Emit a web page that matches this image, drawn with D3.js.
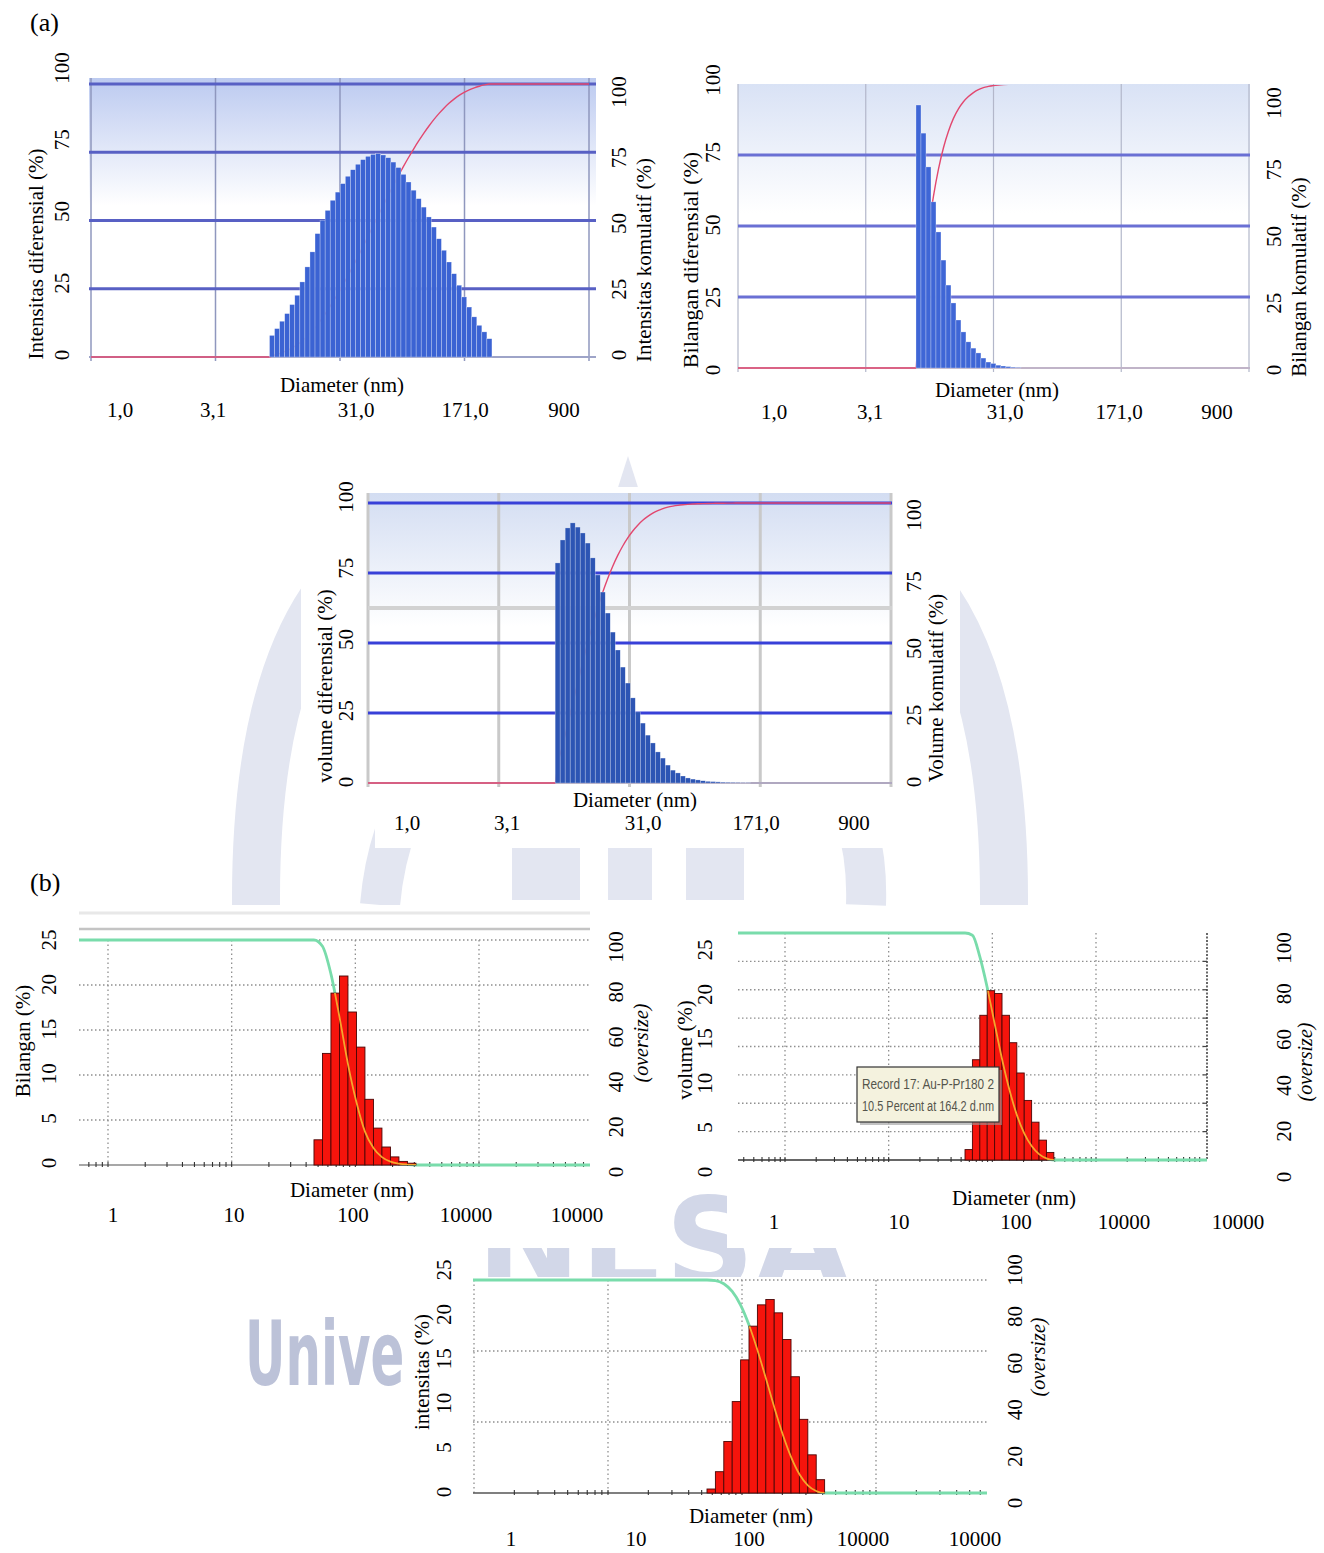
<!DOCTYPE html>
<html>
<head>
<meta charset="utf-8">
<script src="https://cdn.jsdelivr.net/npm/d3@7"></script>
<style>
  body { margin: 0; background: #fff; }
  svg text { font-family: "Liberation Serif", "Times New Roman", serif; fill: #000; }
</style>
</head>
<body>
<svg id="fig" width="1324" height="1553"></svg>
<script>
// ---- data ----
// (a) panels: differential % per log-spaced bin, cumulative drawn from the same bins
const aGridDiam = [0.3, 3, 30, 300, 3000];
const aTickLabels = ["1,0", "3,1", "31,0", "171,0", "900"];
const aYTicks = [0, 25, 50, 75, 100];

const intensityA = [7.9, 10.4, 13.1, 15.9, 19.2, 22.6, 27.5, 33.0, 38.5, 45.2, 50.1, 53.7, 57.4, 60.4, 63.5,
  66.2, 68.6, 70.6, 72.3, 73.5, 74.2, 74.5, 74.0, 73.0, 71.4, 69.4, 66.9, 64.1, 61.1, 58.0, 54.9, 51.3,
  47.6, 43.3, 39.1, 34.8, 30.5, 26.3, 22.0, 18.3, 14.7, 11.6, 9.2, 6.7];
const intensityABins = { start: 8.15, step: 0.0406 };

const numberA = [92.6, 82.7, 70.8, 58.5, 47.9, 38.0, 29.2, 22.9, 16.9, 12.7, 9.2, 7.0, 5.3, 3.5, 2.1, 1.6,
  1.0, 0.7, 0.5, 0.3, 0.2];
const numberABins = { start: 7.42, step: 0.0391 };

const volumeA = [78.6, 86.8, 91.1, 92.9, 91.4, 89.3, 85.7, 80.4, 74.3, 68.2, 60.7, 53.9, 47.5, 41.4, 35.7,
  30.4, 25.4, 21.4, 17.1, 14.3, 11.1, 8.9, 6.4, 4.6, 3.6, 2.5, 1.8, 1.4, 1.1, 0.8, 0.6, 0.5, 0.4, 0.3,
  0.25, 0.2, 0.15, 0.1, 0.1];
const volumeABins = { start: 8.1, step: 0.0383 };

// (b) panels: % per bin, oversize curve = 100 - cumulative
const bGridDiam = [1, 10, 100, 1000];
const bTickLabels = ["1", "10", "100", "10000", "10000"];
const bYTicks = [0, 5, 10, 15, 20, 25];
const bOversizeTicks = [0, 20, 40, 60, 80, 100];

const numberB = [2.8, 12.4, 19.1, 21.0, 17.0, 13.1, 7.3, 4.1, 2.0, 0.9, 0.4, 0.2];
const numberBBins = { start: 46.3, step: 0.0687 };

const volumeB = [1.1, 10.6, 15.3, 17.9, 17.6, 15.3, 12.4, 9.2, 6.3, 4.0, 2.1, 0.8];
const volumeBBins = { start: 54.5, step: 0.0714 };

const intensityB = [0.45, 2.4, 5.8, 10.3, 15.0, 18.8, 21.2, 21.8, 20.3, 17.3, 13.1, 8.3, 4.3, 1.5];
const intensityBBins = { start: 54.8, step: 0.0627 };

const recordNote = ["Record 17: Au-P-Pr180 2", "10.5 Percent at 164.2 d.nm"];

// ---- drawing ----
const svg = d3.select("#fig");
const defs = svg.append("defs");

function makeBins(values, spec) {
  return values.map((v, i) => ({
    lo: spec.start * Math.pow(10, i * spec.step),
    hi: spec.start * Math.pow(10, (i + 1) * spec.step),
    v: v
  }));
}

// running total in %, placed at bin centre or bin right edge
function cumulative(bins, at) {
  const total = d3.sum(bins, d => d.v);
  let run = 0;
  return bins.map(d => {
    run += d.v;
    const pos = at === "center" ? Math.sqrt(d.lo * d.hi) : d.hi;
    return [pos, 100 * run / total];
  });
}

function vtext(g, x, y, str, size, italic) {
  return g.append("text")
    .attr("transform", `translate(${x},${y}) rotate(-90)`)
    .attr("text-anchor", "middle")
    .attr("dy", "0.35em")
    .style("font-size", size + "px")
    .style("font-style", italic ? "italic" : "normal")
    .text(str);
}

function htext(g, x, y, str, size) {
  return g.append("text")
    .attr("x", x).attr("y", y)
    .attr("text-anchor", "middle")
    .attr("dy", "0.35em")
    .style("font-size", size + "px")
    .text(str);
}

function drawWatermark() {
  const wm = svg.append("g");
  const band = "#e3e6f1";
  const curves = [
    "M322,600 Q255,700 256,905",
    "M938,600 Q1005,700 1004,905",
    "M470,720 Q390,790 380,905",
    "M790,720 Q870,790 866,905"
  ];
  wm.selectAll("path.band").data(curves).join("path")
    .attr("class", "band")
    .attr("d", d => d)
    .attr("fill", "none")
    .attr("stroke", band)
    .attr("stroke-width", (d, i) => i < 2 ? 48 : 40);
  wm.selectAll("rect.pillar").data([[512, 580], [608, 652], [686, 744]]).join("rect")
    .attr("class", "pillar")
    .attr("x", d => d[0]).attr("width", d => d[1] - d[0])
    .attr("y", 760).attr("height", 140)
    .attr("fill", band);
  wm.append("path").attr("d", "M628,456 L614,500 L642,500 Z").attr("fill", band);
  wm.append("text")
    .attr("x", 376).attr("y", 1287)
    .style("font-family", "'DejaVu Sans', sans-serif")
    .style("font-weight", "bold")
    .style("font-size", "124px")
    .style("fill", "#d2d7e8")
    .text("UNESA");
  wm.append("text")
    .attr("transform", "translate(245,1385) scale(0.56,1)")
    .style("font-family", "'DejaVu Sans', sans-serif")
    .style("font-weight", "bold")
    .style("font-size", "89px")
    .style("fill", "#bcc2d8")
    .text("Universitas Negeri Surabaya");

  // white picture backgrounds that hide the watermark
  const boxes = [
    [301, 487, 659, 323], [375, 810, 516, 38],
    [70, 905, 590, 343], [370, 1248, 105, 45],
    [727, 908, 548, 340], [405, 1277, 655, 276]
  ];
  svg.selectAll("rect.paper").data(boxes).join("rect")
    .attr("class", "paper")
    .attr("x", d => d[0]).attr("y", d => d[1])
    .attr("width", d => d[2]).attr("height", d => d[3])
    .attr("fill", "#fff");
}

function drawA(c) {
  const g = svg.append("g");
  const x = d3.scaleLog().domain([aGridDiam[0], aGridDiam[aGridDiam.length - 1]]).range([c.x0, c.x1]);
  const y = d3.scaleLinear().domain([0, 100]).range([c.base, c.top]);

  const grad = defs.append("linearGradient").attr("id", c.id + "bg")
    .attr("x1", 0).attr("y1", 0).attr("x2", 0).attr("y2", 1);
  grad.append("stop").attr("offset", "0%").attr("stop-color", c.bgColor);
  grad.append("stop").attr("offset", "45%").attr("stop-color", "#fff");

  const [bx0, by0, bx1, by1] = c.bg;
  g.append("rect")
    .attr("x", bx0).attr("y", by0).attr("width", bx1 - bx0).attr("height", by1 - by0)
    .attr("fill", `url(#${c.id}bg)`);

  defs.append("clipPath").attr("id", c.id + "clip")
    .append("rect").attr("x", bx0).attr("y", by0 + 1).attr("width", bx1 - bx0).attr("height", by1 - by0);

  // vertical grid
  g.selectAll("line.vg").data(aGridDiam).join("line")
    .attr("class", "vg")
    .attr("x1", d => x(d)).attr("x2", d => x(d))
    .attr("y1", by0).attr("y2", c.base + 4)
    .attr("stroke", c.vColor).attr("stroke-width", c.vWidth);

  if (c.grayGrid) {
    g.selectAll("line.gg").data(c.grayGrid).join("line")
      .attr("class", "gg")
      .attr("x1", bx0).attr("x2", bx1)
      .attr("y1", d => y(d)).attr("y2", d => y(d))
      .attr("stroke", "#d2d2d2").attr("stroke-width", 4);
  }

  g.selectAll("line.hg").data(c.hGrid).join("line")
    .attr("class", "hg")
    .attr("x1", bx0).attr("x2", bx1)
    .attr("y1", d => y(d)).attr("y2", d => y(d))
    .attr("stroke", c.hColor).attr("stroke-width", 3);

  g.append("line")
    .attr("x1", bx0).attr("x2", bx1).attr("y1", y(0)).attr("y2", y(0))
    .attr("stroke", c.zeroColor).attr("stroke-width", 2);

  const bins = makeBins(c.values, c.bins);
  const pts = [[x.domain()[0], 0], [bins[0].lo, 0]]
    .concat(cumulative(bins, "center"))
    .concat([[x.domain()[1], 100]]);
  const line = d3.line().x(d => x(d[0])).y(d => y(d[1])).curve(d3.curveMonotoneX);
  g.append("path")
    .attr("d", line(pts))
    .attr("clip-path", `url(#${c.id}clip)`)
    .attr("fill", "none")
    .attr("stroke", "#e2486f")
    .attr("stroke-width", 1.4);

  g.selectAll("rect.bar").data(bins).join("rect")
    .attr("class", "bar")
    .attr("x", d => x(d.lo))
    .attr("width", d => x(d.hi) - x(d.lo))
    .attr("y", d => y(d.v))
    .attr("height", d => y(0) - y(d.v))
    .attr("fill", c.barColor)
    .attr("stroke", "#fff").attr("stroke-width", 0.5).attr("stroke-opacity", 0.55);

  // labels
  const yl = d3.scaleLinear().domain([0, 100]).range(c.yLabL.range);
  const yr = d3.scaleLinear().domain([0, 100]).range(c.yLabR.range);
  aYTicks.forEach(t => {
    vtext(g, c.yLabL.x, yl(t), t, 21);
    vtext(g, c.yLabR.x, yr(t), t, 21);
  });
  vtext(g, c.titleL.x, c.titleL.y, c.titleL.text, c.titleL.size || 21);
  vtext(g, c.titleR.x, c.titleR.y, c.titleR.text, 21);
  htext(g, c.xTitle.x, c.xTitle.y, "Diameter (nm)", 21);
  aTickLabels.forEach((t, i) => htext(g, c.xLab.xs[i], c.xLab.y, t, 21));
}

function drawB(c) {
  const g = svg.append("g");
  const x = d3.scaleLog().domain(c.xDom).range(c.xRange);
  const y = d3.scaleLinear().domain([0, c.yMax]).range([c.base, c.top]);
  const yo = d3.scaleLinear().domain([0, 100]).range([c.base, c.top]);
  const right = c.frame || c.x1;

  if (c.topLine) {
    g.append("line").attr("x1", c.x0).attr("x2", c.x1).attr("y1", c.topLine - 16).attr("y2", c.topLine - 16)
      .attr("stroke", "#e8e8e8").attr("stroke-width", 3);
    g.append("line").attr("x1", c.x0).attr("x2", c.x1).attr("y1", c.topLine).attr("y2", c.topLine)
      .attr("stroke", "#c4c4c4").attr("stroke-width", 2.5);
  }

  const vg = bGridDiam.filter(d => x(d) >= c.x0 - 2 && x(d) <= right - 2);
  g.selectAll("line.vg").data(vg).join("line")
    .attr("class", "vg")
    .attr("x1", d => x(d)).attr("x2", d => x(d))
    .attr("y1", c.top).attr("y2", c.base)
    .attr("stroke", "#8f8f8f").attr("stroke-width", 1.3)
    .attr("stroke-dasharray", "1.5,3");

  g.selectAll("line.hg").data(c.yGrid).join("line")
    .attr("class", "hg")
    .attr("x1", c.x0).attr("x2", right)
    .attr("y1", d => y(d)).attr("y2", d => y(d))
    .attr("stroke", "#8f8f8f").attr("stroke-width", 1.3)
    .attr("stroke-dasharray", "1.5,2.5");

  if (c.frame) {
    g.append("line").attr("x1", c.frame).attr("x2", c.frame).attr("y1", c.top).attr("y2", c.base)
      .attr("stroke", "#444").attr("stroke-width", 1.6).attr("stroke-dasharray", "2,1.5");
    g.selectAll("line.ft").data(c.yGrid).join("line")
      .attr("class", "ft")
      .attr("x1", c.frame - 4).attr("x2", c.frame)
      .attr("y1", d => y(d)).attr("y2", d => y(d))
      .attr("stroke", "#444").attr("stroke-width", 1.2);
  }

  g.append("line").attr("x1", c.x0).attr("x2", right).attr("y1", c.base).attr("y2", c.base)
    .attr("stroke", c.baseColor).attr("stroke-width", 1.4);

  const minors = [];
  for (let k = -1; k <= 4; k++) {
    for (let m = 1; m <= 9; m++) {
      const d = m * Math.pow(10, k);
      if (x(d) > c.x0 + 2 && x(d) < right - 2) minors.push(d);
    }
  }
  g.selectAll("line.mt").data(minors).join("line")
    .attr("class", "mt")
    .attr("x1", d => x(d)).attr("x2", d => x(d))
    .attr("y1", c.base - 3).attr("y2", c.base + 2)
    .attr("stroke", "#333").attr("stroke-width", 1.1);

  const bins = makeBins(c.values, c.bins);
  const pts = [[x.invert(c.x0), 100], [bins[0].lo, 100]]
    .concat(cumulative(bins, "edge").map(p => [p[0], 100 - p[1]]))
    .concat([[x.invert(right), 0]]);
  const line = d3.line().x(d => x(d[0])).y(d => yo(d[1])).curve(d3.curveMonotoneX);

  g.append("path").attr("d", line(pts))
    .attr("fill", "none").attr("stroke", "#79dcab").attr("stroke-width", 2.8);

  g.selectAll("rect.bar").data(bins).join("rect")
    .attr("class", "bar")
    .attr("x", d => x(d.lo))
    .attr("width", d => x(d.hi) - x(d.lo))
    .attr("y", d => y(d.v))
    .attr("height", d => y(0) - y(d.v))
    .attr("fill", "#f5140c")
    .attr("stroke", "#4a0505").attr("stroke-width", 0.9);

  const clip = defs.append("clipPath").attr("id", c.id + "bars");
  clip.selectAll("rect").data(bins).join("rect")
    .attr("x", d => x(d.lo))
    .attr("width", d => x(d.hi) - x(d.lo))
    .attr("y", d => y(d.v))
    .attr("height", d => y(0) - y(d.v));
  g.append("path").attr("d", line(pts))
    .attr("clip-path", `url(#${c.id}bars)`)
    .attr("fill", "none").attr("stroke", "#f6a52c").attr("stroke-width", 1.8);

  if (c.note) {
    const n = c.note;
    g.append("rect").attr("x", n.x + 3).attr("y", n.y + 3).attr("width", n.w).attr("height", n.h)
      .attr("fill", "#9a9a9a").attr("opacity", 0.6);
    g.append("rect").attr("x", n.x).attr("y", n.y).attr("width", n.w).attr("height", n.h)
      .attr("fill", "#f4f2de").attr("stroke", "#333").attr("stroke-width", 1.2);
    recordNote.forEach((t, i) => {
      g.append("text")
        .attr("x", n.x + 5).attr("y", n.y + 22 + i * 22)
        .attr("textLength", n.w - 10).attr("lengthAdjust", "spacingAndGlyphs")
        .style("font-family", "'Liberation Sans', Arial, sans-serif")
        .style("font-size", "14px")
        .style("fill", "#55554c")
        .text(t);
    });
  }

  const yl = d3.scaleLinear().domain([0, 25]).range(c.yLabL.range);
  const yr = d3.scaleLinear().domain([0, 100]).range(c.yLabR.range);
  bYTicks.forEach(t => vtext(g, c.yLabL.x, yl(t), t, 21));
  bOversizeTicks.forEach(t => vtext(g, c.yLabR.x, yr(t), t, 21));
  vtext(g, c.titleL.x, c.titleL.y, c.titleL.text, 21);
  vtext(g, c.titleR.x, c.titleR.y, "(oversize)", 20, true);
  htext(g, c.xTitle.x, c.xTitle.y, "Diameter (nm)", 21);
  bTickLabels.forEach((t, i) => htext(g, c.xLab.xs[i], c.xLab.y, t, 21));
}

drawWatermark();

drawA({
  id: "a1", values: intensityA, bins: intensityABins,
  x0: 91, x1: 589, top: 84, base: 357, bg: [89, 78, 596, 362],
  bgColor: "#bccaf0", barColor: "#3b63d3",
  hGrid: [25, 50, 75, 100], hColor: "#5860c4", vColor: "#8f97be", vWidth: 1.5, zeroColor: "#9ea4c8",
  yLabL: { x: 62, range: [355, 68] }, yLabR: { x: 619, range: [355, 92] },
  titleL: { x: 36, y: 254, text: "Intensitas diferensial (%)" },
  titleR: { x: 644, y: 260, text: "Intensitas komulatif (%)" },
  xTitle: { x: 342, y: 385 }, xLab: { y: 410, xs: [120, 213, 356, 465, 564] }
});

drawA({
  id: "a2", values: numberA, bins: numberABins,
  x0: 738, x1: 1249, top: 84, base: 368, bg: [738, 84, 1250, 371],
  bgColor: "#d9e2f5", barColor: "#3f66d6",
  hGrid: [25, 50, 75], hColor: "#6a70d4", vColor: "#b3b7ca", vWidth: 1.2, zeroColor: "#c0b4c8",
  yLabL: { x: 713, range: [370, 80] }, yLabR: { x: 1274, range: [370, 103] },
  titleL: { x: 690, y: 260, size: 22, text: "Bilangan  diferensial (%)" },
  titleR: { x: 1299, y: 277, text: "Bilangan komulatif (%)" },
  xTitle: { x: 997, y: 390 }, xLab: { y: 412, xs: [774, 870, 1005, 1119, 1217] }
});

drawA({
  id: "a3", values: volumeA, bins: volumeABins,
  x0: 368, x1: 891, top: 503, base: 783, bg: [368, 493, 892, 790],
  bgColor: "#d3ddf2", barColor: "#2d55b4",
  hGrid: [25, 50, 75, 100], hColor: "#3840d8", vColor: "#c9c9c9", vWidth: 3, zeroColor: "#b0a8c0",
  grayGrid: [62.5],
  yLabL: { x: 346, range: [782, 497] }, yLabR: { x: 914, range: [782, 515] },
  titleL: { x: 325, y: 686, text: "volume diferensial (%)" },
  titleR: { x: 936, y: 688, text: "Volume  komulatif (%)" },
  xTitle: { x: 635, y: 800 }, xLab: { y: 823, xs: [407, 507, 643, 756, 854] }
});

drawB({
  id: "b1", values: numberB, bins: numberBBins,
  xDom: [1, 1000], xRange: [108, 479], x0: 79, x1: 590,
  base: 1165, top: 940, yMax: 25, yGrid: [5, 10, 15, 20, 25], topLine: 929, baseColor: "#8a8a8a",
  yLabL: { x: 49, range: [1163, 940] }, yLabR: { x: 616, range: [1172, 947] },
  titleL: { x: 23, y: 1041, text: "Bilangan  (%)" },
  titleR: { x: 641, y: 1043 },
  xTitle: { x: 352, y: 1190 }, xLab: { y: 1215, xs: [113, 234, 353, 466, 577] }
});

drawB({
  id: "b2", values: volumeB, bins: volumeBBins,
  xDom: [1, 1000], xRange: [785, 1096], x0: 738, x1: 1211, frame: 1207,
  base: 1160, top: 933, yMax: 24, yGrid: [3, 6, 9, 12, 15, 18, 21], baseColor: "#333",
  note: { x: 857, y: 1067, w: 142, h: 55 },
  yLabL: { x: 705, range: [1172, 950] }, yLabR: { x: 1284, range: [1177, 948] },
  titleL: { x: 685, y: 1050, text: "volume  (%)" },
  titleR: { x: 1305, y: 1062 },
  xTitle: { x: 1014, y: 1198 }, xLab: { y: 1222, xs: [774, 899, 1016, 1124, 1238] }
});

drawB({
  id: "b3", values: intensityB, bins: intensityBBins,
  xDom: [10, 1000], xRange: [608, 876], x0: 473, x1: 987,
  base: 1493, top: 1280, yMax: 24, yGrid: [8, 16, 24], baseColor: "#555",
  yLabL: { x: 444, range: [1492, 1270] }, yLabR: { x: 1015, range: [1503, 1270] },
  titleL: { x: 422, y: 1372, text: "intensitas  (%)" },
  titleR: { x: 1038, y: 1357 },
  xTitle: { x: 751, y: 1516 }, xLab: { y: 1539, xs: [511, 636, 749, 863, 975] }
});

svg.append("text").attr("x", 30).attr("y", 31).style("font-size", "26px").text("(a)");
svg.append("text").attr("x", 30).attr("y", 891).style("font-size", "26px").text("(b)");
</script>
</body>
</html>
